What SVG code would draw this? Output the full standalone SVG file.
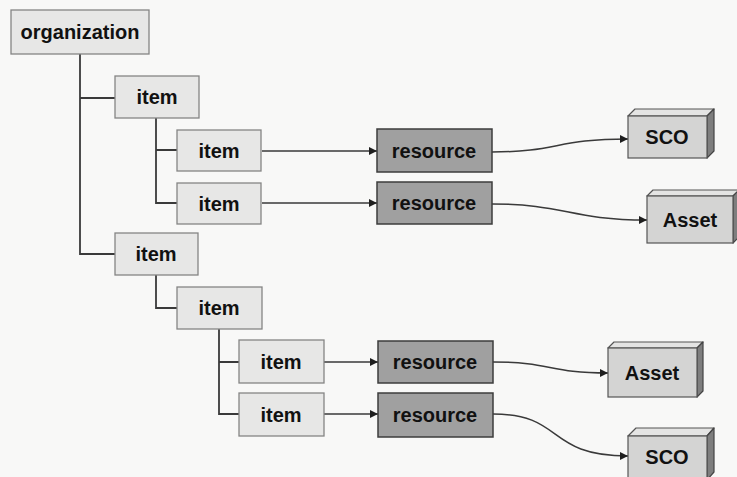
<svg xmlns="http://www.w3.org/2000/svg" width="737" height="477" viewBox="0 0 737 477">
  <style>
    .bg { fill: #f8f8f7; }
    .item rect { fill: #e7e7e6; stroke: #858585; stroke-width: 1.3; }
    .res rect { fill: #a0a0a0; stroke: #3c3c3c; stroke-width: 1.5; }
    .front { fill: #d4d4d3; stroke: #555; stroke-width: 1.2; }
    .top { fill: #e4e4e3; stroke: #555; stroke-width: 1.2; stroke-linejoin: round; }
    .side { fill: #7e7e7e; stroke: #444; stroke-width: 1.2; stroke-linejoin: round; }
    text { font-family: "Liberation Sans", Arial, sans-serif; font-weight: bold; font-size: 20px; fill: #111; text-anchor: middle; }
    .tree { fill: none; stroke: #3a3a3a; stroke-width: 1.8; }
    .link { fill: none; stroke: #3a3a3a; stroke-width: 1.5; marker-end: url(#arrow); }
  </style>
  <defs>
    <marker id="arrow" viewBox="0 0 10 10" refX="10" refY="5" markerWidth="9" markerHeight="8" markerUnits="userSpaceOnUse" orient="auto">
      <path d="M0,0 L10,5 L0,10 z" fill="#1e1e1e"/>
    </marker>
  </defs>

  <rect class="bg" x="0" y="0" width="737" height="477"/>

  <!-- connectors -->
  <g id="connectors">
    <path class="tree" d="M80,54 V254 H115 M80,98 H115"/>
    <path class="tree" d="M156,118 V203 H177 M156,150 H177"/>
    <path class="tree" d="M156,275 V308 H177"/>
    <path class="tree" d="M219,329 V414 H239 M219,362 H239"/>
    <path class="link" d="M262,151 H377"/>
    <path class="link" d="M262,203 H377"/>
    <path class="link" d="M324,362 H378"/>
    <path class="link" d="M324,414 H378"/>
    <path class="link" d="M492,152 C558,152 556,139 628,139"/>
    <path class="link" d="M492,204 C565,204 570,220 647,220"/>
    <path class="link" d="M493,362 C552,362 548,373 608,373"/>
    <path class="link" d="M493,414 C565,414 545,456 628,456"/>
  </g>

  <!-- tree nodes -->
  <g id="organization" class="item">
    <rect x="11" y="10" width="138" height="44"/>
    <text x="80" y="39">organization</text>
  </g>
  <g id="item-1" class="item">
    <rect x="115" y="76" width="84" height="42"/>
    <text x="157" y="104">item</text>
  </g>
  <g id="item-1-1" class="item">
    <rect x="177" y="130" width="84" height="41"/>
    <text x="219" y="158">item</text>
  </g>
  <g id="item-1-2" class="item">
    <rect x="177" y="183" width="84" height="41"/>
    <text x="219" y="211">item</text>
  </g>
  <g id="item-2" class="item">
    <rect x="115" y="233" width="83" height="42"/>
    <text x="156" y="261">item</text>
  </g>
  <g id="item-2-1" class="item">
    <rect x="177" y="287" width="85" height="42"/>
    <text x="219" y="315">item</text>
  </g>
  <g id="item-2-1-1" class="item">
    <rect x="239" y="340" width="85" height="43"/>
    <text x="281" y="369">item</text>
  </g>
  <g id="item-2-1-2" class="item">
    <rect x="239" y="393" width="85" height="43"/>
    <text x="281" y="422">item</text>
  </g>

  <!-- resources -->
  <g id="resource-1" class="res">
    <rect x="377" y="129" width="115" height="43"/>
    <text x="434" y="158">resource</text>
  </g>
  <g id="resource-2" class="res">
    <rect x="377" y="182" width="115" height="42"/>
    <text x="434" y="210">resource</text>
  </g>
  <g id="resource-3" class="res">
    <rect x="378" y="341" width="115" height="42"/>
    <text x="435" y="369">resource</text>
  </g>
  <g id="resource-4" class="res">
    <rect x="378" y="393" width="115" height="44"/>
    <text x="435" y="422">resource</text>
  </g>

  <!-- content blocks -->
  <g id="sco-1">
    <path class="top" d="M628,116 L635,109 L714,109 L707,116 z"/>
    <path class="side" d="M707,116 L714,109 L714,151 L707,158 z"/>
    <rect class="front" x="628" y="116" width="79" height="42"/>
    <text x="667" y="144">SCO</text>
  </g>
  <g id="asset-1">
    <path class="top" d="M647,196 L653,190 L739,190 L733,196 z"/>
    <path class="side" d="M733,196 L739,190 L739,237 L733,243 z"/>
    <rect class="front" x="647" y="196" width="86" height="47"/>
    <text x="690" y="227">Asset</text>
  </g>
  <g id="asset-2">
    <path class="top" d="M608,348 L614,342 L703,342 L697,348 z"/>
    <path class="side" d="M697,348 L703,342 L703,391 L697,397 z"/>
    <rect class="front" x="608" y="348" width="89" height="49"/>
    <text x="652" y="380">Asset</text>
  </g>
  <g id="sco-2">
    <path class="top" d="M628,436 L636,428 L714,428 L707,436 z"/>
    <path class="side" d="M707,436 L714,428 L714,472 L707,480 z"/>
    <rect class="front" x="628" y="436" width="79" height="44"/>
    <text x="667" y="464">SCO</text>
  </g>
</svg>
